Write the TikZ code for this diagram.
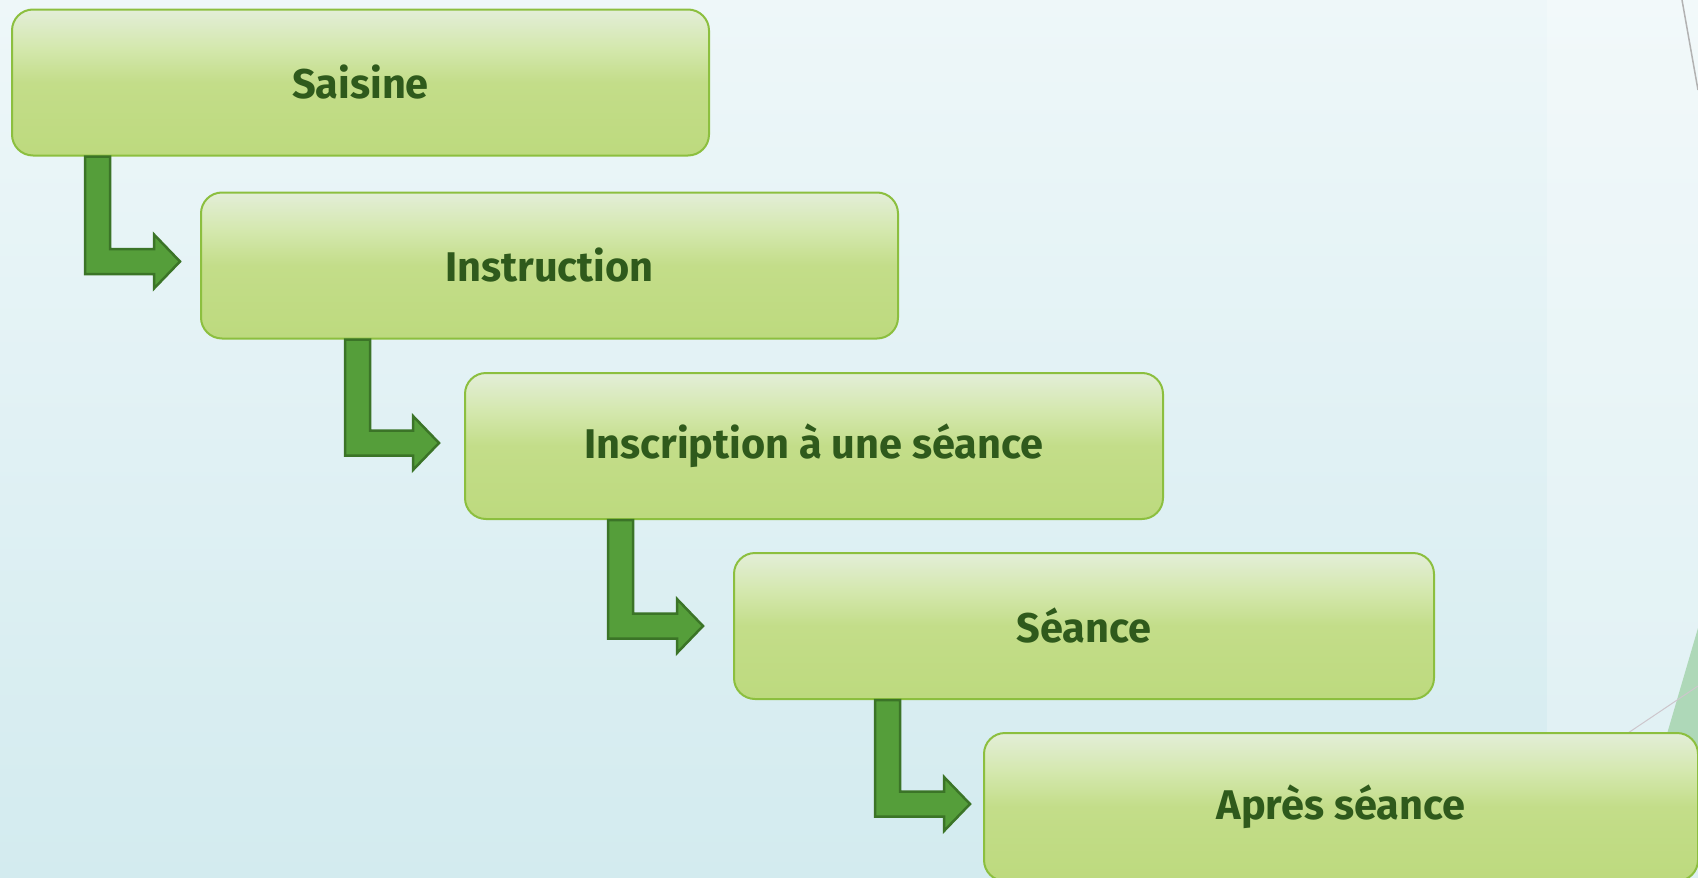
\documentclass[tikz,border=0pt]{standalone}
\usepackage{fontspec}
\setmainfont{Fira Sans}
\usetikzlibrary{calc}
\definecolor{bgtop}{HTML}{EEF7F9}
\definecolor{bgbot}{HTML}{D3EBEF}
\definecolor{gA}{HTML}{E3EED8}
\definecolor{gB}{HTML}{D4E8AE}
\definecolor{gC}{HTML}{C3DD89}
\definecolor{gD}{HTML}{BDDA7E}
\definecolor{boxline}{HTML}{8CBF3F}
\definecolor{txt}{HTML}{2F5A1C}
\definecolor{arrfill}{HTML}{559E3A}
\definecolor{arrline}{HTML}{3B7427}
\definecolor{facet}{HTML}{AED8B8}
\definecolor{facetline}{HTML}{CDC6CC}
\pgfdeclareverticalshading{boxshade}{100bp}{color(0bp)=(gD); color(25bp)=(gD); color(50bp)=(gC); color(62bp)=(gB); color(75bp)=(gA); color(100bp)=(gA)}
\tikzset{
  stage/.style={rectangle, rounded corners=21, draw=boxline, line width=2, shading=boxshade,
    minimum height=146, inner sep=0, text=txt, font=\bfseries\fontsize{41.5}{46}\selectfont},
  flow/.style={fill=arrfill, draw=arrline, line width=2.5, line join=miter}
}
\newcommand{\bentarrow}[2]{%
  \draw[flow] (#1) -- ++(25,0) -- ($(#1 |- #2)+(25,-12.5)$) -- ($(#2)+(-26,-12.5)$)
    -- ($(#2)+(-26,-27)$) -- (#2) -- ($(#2)+(-26,27)$) -- ($(#2)+(-26,12.5)$)
    -- ($(#1 |- #2)+(0,12.5)$) -- cycle;}
\begin{document}
\begin{tikzpicture}[x=1pt,y=-1pt]
\useasboundingbox (0,0) rectangle (1698,878);
\shade[top color=bgtop, bottom color=bgbot] (0,0) rectangle (1698,878);
\fill[white, opacity=0.25] (1547,0) rectangle (1698,878);
\draw[gray!60, line width=1.5] (1682,0) -- (1698,90);
\fill[facet] (1698,628) -- (1650,792) -- (1698,792) -- cycle;
\draw[facetline, line width=1] (1628,733) -- (1698,686);

\node[stage, minimum width=697] (b1) at (360.5,82.5) {Saisine};
\node[stage, minimum width=697] (b2) at (549.5,265.5) {Instruction};
\node[stage, minimum width=698] (b3) at (814,446) {Inscription à une séance};
\node[stage, minimum width=700] (b4) at (1084,626) {Séance};
\node[stage, minimum width=714, minimum height=148] (b5) at (1341,807) {Après séance};

\coordinate (s1) at ($(b1.south west)+(74,0)$);
\coordinate (t1) at ($(b2.west)+(-20,-4)$);
\coordinate (s2) at ($(b2.south west)+(145,0)$);
\coordinate (t2) at ($(b3.west)+(-25,-3)$);
\coordinate (s3) at ($(b3.south west)+(144,0)$);
\coordinate (t3) at ($(b4.west)+(-30,0)$);
\coordinate (s4) at ($(b4.south west)+(142,0)$);
\coordinate (t4) at ($(b5.west)+(-13,-3)$);
\bentarrow{s1}{t1}
\bentarrow{s2}{t2}
\bentarrow{s3}{t3}
\bentarrow{s4}{t4}
\end{tikzpicture}
\end{document}
